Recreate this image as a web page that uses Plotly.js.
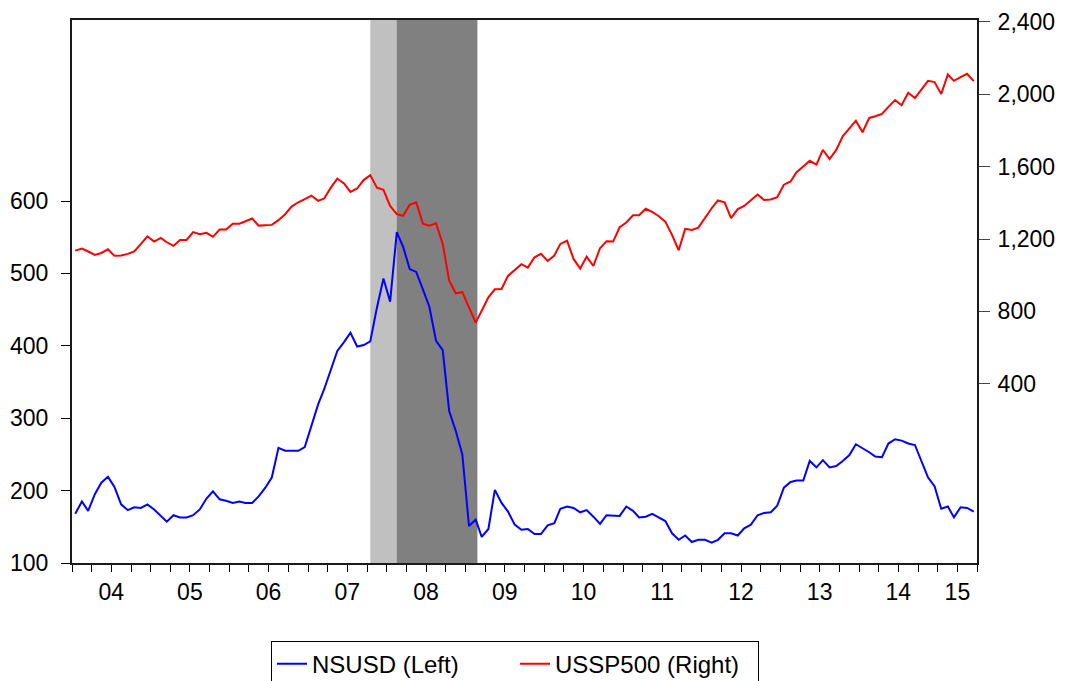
<!DOCTYPE html>
<html>
<head>
<meta charset="utf-8">
<script src="https://cdn.plot.ly/plotly-3.0.1.min.js"></script>
<style>html,body{margin:0;padding:0;background:#fff;}#chart{width:1065px;height:681px;}</style>
</head>
<body>
<div id="chart"></div>
<script>
// Monthly observations 2004M01 .. 2015M06
const startYear = 2004;
const nObs = 138;

const nsusd = [
  168,185,172,195,211,219,205,181,173,177,176,181,
  174,165,157,166,163,163,166,174,189,199,188,186,
  183,185,183,183,192,204,218,259,255,255,255,260,
  289,319,340,368,393,405,418,399,401,406,453,493,
  461,557,537,506,502,478,454,407,394,310,282,250,
  151,160,136,147,201,183,171,153,146,147,140,140,
  152,155,175,178,176,170,173,164,154,166,166,165,
  178,172,163,164,168,163,158,141,132,138,129,132,
  132,128,132,141,141,138,148,153,166,169,170,179,
  204,212,214,214,241,232,242,232,234,241,249,264,
  259,253,247,246,265,271,269,265,263,241,218,206,
  175,178,163,177,176,171
];

const ussp500 = [
  1136,1147,1131,1112,1123,1143,1107,1109,1118,1132,1173,1215,
  1186,1206,1182,1162,1195,1195,1238,1226,1234,1212,1252,1252,
  1285,1285,1298,1313,1274,1274,1278,1304,1337,1379,1403,1420,
  1440,1411,1424,1484,1534,1507,1460,1479,1527,1553,1484,1472,
  1383,1337,1328,1389,1403,1285,1274,1287,1173,970,900,906,
  826,738,804,878,922,924,996,1029,1061,1042,1099,1118,
  1079,1109,1173,1191,1090,1037,1103,1051,1149,1188,1186,1265,
  1291,1331,1331,1367,1350,1326,1296,1223,1138,1256,1250,1263,
  1320,1370,1413,1403,1315,1365,1383,1413,1446,1416,1418,1431,
  1500,1518,1569,1601,1632,1611,1693,1642,1692,1767,1814,1854,
  1790,1869,1878,1891,1930,1968,1939,2008,1979,2025,2074,2067,
  2001,2109,2074,2094,2113,2072
];

const yearLabels = ['04','05','06','07','08','09','10','11','12','13','14','15'];
const yearLabelPos = ['2004-07-01','2005-07-01','2006-07-01','2007-07-01','2008-07-01','2009-07-01',
  '2010-07-01','2011-07-01','2012-07-01','2013-07-01','2014-07-01','2015-04-01'];
const yearTicks = ['2004-01-01','2005-01-01','2006-01-01','2007-01-01','2008-01-01','2009-01-01',
  '2010-01-01','2011-01-01','2012-01-01','2013-01-01','2014-01-01','2015-01-01'];

const leftTicks = [100,200,300,400,500,600];
const rightTicks = [400,800,1200,1600,2000,2400];

const shadeStart = ['2007-10-16','2008-02-15'];
const shadeEnd   = ['2008-02-15','2009-02-24'];
const shadeColor = ['#c0c0c0','#808080'];

function pad(n){return (n<10?'0':'')+n;}
const dates = [];
for (let i=0;i<nObs;i++){
  const y = startYear + Math.floor(i/12);
  const m = (i%12)+1;
  dates.push(y+'-'+pad(m)+'-16');
}

const xRange = ['2004-01-01','2015-07-01'];
const FONT = 'Liberation Sans, Arial, sans-serif';

const traces = [
  {x: dates, y: nsusd, type:'scatter', mode:'lines', name:'NSUSD (Left)',
   line:{color:'#0000ff', width:2}, xaxis:'x', yaxis:'y'},
  {x: dates, y: ussp500, type:'scatter', mode:'lines', name:'USSP500 (Right)',
   line:{color:'#ff0000', width:2}, xaxis:'x2', yaxis:'y2'}
];

const shapes = shadeStart.map((s,i)=>({
  type:'rect', xref:'x', yref:'paper', x0:s, x1:shadeEnd[i], y0:0, y1:1,
  fillcolor: shadeColor[i], line:{width:0}, layer:'below'
}));

const layout = {
  width:1065, height:681,
  margin:{l:72, r:88, t:20, b:118, autoexpand:false},
  paper_bgcolor:'#ffffff', plot_bgcolor:'#ffffff',
  font:{family:FONT, size:23, color:'#000'},
  showlegend:true,
  legend:{orientation:'h', x:0.4895, xanchor:'center', y:-0.143, yanchor:'top',
    bordercolor:'#000', borderwidth:1, bgcolor:'#fff', font:{size:24},
    entrywidth:198, entrywidthmode:'pixels',
    traceorder:'normal'},
  xaxis:{type:'date', range:xRange, tickmode:'array', tickvals:yearTicks,
    ticktext:yearTicks.map(()=>''), showticklabels:false,
    ticks:'outside', ticklen:13, tickwidth:1, tickcolor:'#000',
    minor:{dtick:'M3', tick0:'2004-01-01', ticks:'outside', ticklen:7, tickwidth:1, tickcolor:'#000', showgrid:false},
    showgrid:false, zeroline:false, showline:true, linecolor:'#1a1a1a', linewidth:2, mirror:true},
  xaxis2:{type:'date', range:xRange, overlaying:'x', anchor:'y2', side:'bottom',
    tickmode:'array', tickvals:yearLabelPos, ticktext:yearLabels,
    ticks:'outside', ticklen:8, tickcolor:'rgba(0,0,0,0)',
    showgrid:false, zeroline:false, showline:false, tickfont:{size:23}},
  yaxis:{range:[100,850], tickmode:'array', tickvals:leftTicks,
    ticks:'outside', ticklen:9, tickwidth:1, tickcolor:'#000', ticklabelstandoff:8,
    showgrid:false, zeroline:false, showline:true, linecolor:'#1a1a1a', linewidth:2, mirror:true},
  yaxis2:{range:[-590,2410], overlaying:'y', side:'right', tickmode:'array', tickvals:rightTicks,
    tickformat:',d', ticks:'outside', ticklen:11, tickwidth:1, tickcolor:'#444', ticklabelstandoff:3,
    showgrid:false, zeroline:false, showline:true, linecolor:'#1a1a1a', linewidth:2},
  shapes: shapes
};

Plotly.newPlot('chart', traces, layout, {displayModeBar:false, staticPlot:true});
</script>
</body>
</html>
